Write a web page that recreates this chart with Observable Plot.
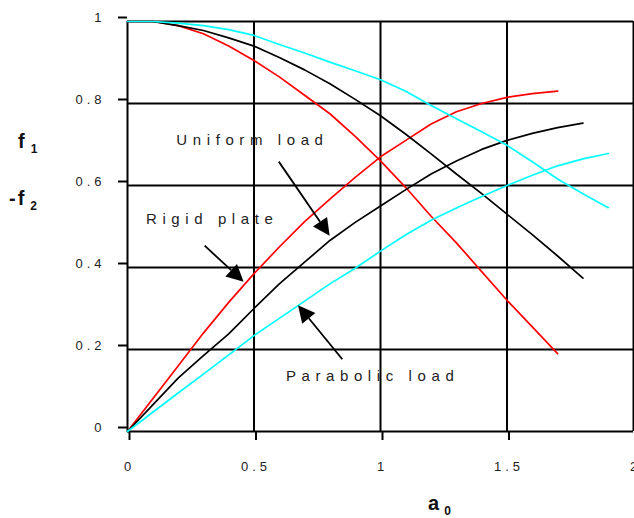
<!DOCTYPE html>
<html>
<head>
<meta charset="utf-8">
<script src="https://cdn.jsdelivr.net/npm/d3@7"></script>
<script src="https://cdn.jsdelivr.net/npm/@observablehq/plot@0.6"></script>
<style>
  body { margin: 0; background: #fff; }
  #chart { width: 634px; height: 518px; overflow: hidden; }
</style>
</head>
<body>
<div id="chart"></div>
<script>
// Axis ticks
const xTicks = [0, 0.5, 1, 1.5, 2];
const yTicks = [0, 0.2, 0.4, 0.6, 0.8, 1];

// Series names
const seriesNames = ["Rigid plate", "Uniform load", "Parabolic load"];

// Rigid plate
const a0Rigid = [0, 0.1, 0.2, 0.3, 0.4, 0.5, 0.6, 0.7, 0.8, 0.9, 1.0, 1.1, 1.2, 1.3, 1.4, 1.5, 1.6, 1.7];
const f1Rigid = [1, 1.0, 0.99, 0.97, 0.94, 0.905, 0.865, 0.82, 0.775, 0.72, 0.66, 0.595, 0.525, 0.46, 0.39, 0.32, 0.255, 0.19];
const negF2Rigid = [0, 0.08, 0.16, 0.24, 0.315, 0.385, 0.45, 0.512, 0.567, 0.62, 0.67, 0.71, 0.75, 0.78, 0.80, 0.815, 0.824, 0.83];

// Uniform load
const a0Uniform = [0, 0.1, 0.2, 0.3, 0.4, 0.5, 0.6, 0.7, 0.8, 0.9, 1.0, 1.1, 1.2, 1.3, 1.4, 1.5, 1.6, 1.7, 1.8];
const f1Uniform = [1, 1.0, 0.99, 0.978, 0.96, 0.94, 0.912, 0.882, 0.848, 0.81, 0.77, 0.725, 0.677, 0.628, 0.58, 0.53, 0.48, 0.428, 0.374];
const negF2Uniform = [0, 0.065, 0.13, 0.185, 0.238, 0.30, 0.36, 0.413, 0.466, 0.51, 0.55, 0.59, 0.628, 0.66, 0.688, 0.71, 0.727, 0.741, 0.752];

// Parabolic load
const a0Parabolic = [0, 0.1, 0.2, 0.3, 0.4, 0.5, 0.6, 0.7, 0.8, 0.9, 1.0, 1.1, 1.2, 1.3, 1.4, 1.5, 1.6, 1.7, 1.8, 1.9];
const f1Parabolic = [1, 1.0, 0.996, 0.99, 0.98, 0.966, 0.944, 0.923, 0.901, 0.88, 0.858, 0.83, 0.795, 0.763, 0.731, 0.698, 0.658, 0.616, 0.58, 0.546];
const negF2Parabolic = [0, 0.047, 0.094, 0.14, 0.187, 0.234, 0.276, 0.318, 0.36, 0.398, 0.44, 0.48, 0.515, 0.545, 0.573, 0.60, 0.625, 0.648, 0.665, 0.678];

// Callout labels (anchored at the start of their baseline, data units)
const calloutText = ["Uniform load", "Rigid plate", "Parabolic load"];
const calloutX = [0.193, 0.073, 0.626];
const calloutY = [0.700, 0.505, 0.124];

// Callout arrows: tail -> tip, data units
const arrowTailX = [0.600, 0.307, 0.851];
const arrowTailY = [0.657, 0.452, 0.175];
const arrowTipX = [0.801, 0.461, 0.676];
const arrowTipY = [0.476, 0.364, 0.307];

// Long-format table: one row per point, one line per (series, component)
function seriesRows(name, a0, f1, negF2) {
  const rows = [];
  a0.forEach((a, i) => rows.push({series: name, part: "f1", a0: a, value: f1[i]}));
  a0.forEach((a, i) => rows.push({series: name, part: "-f2", a0: a, value: negF2[i]}));
  return rows;
}
const curves = [
  ...seriesRows(seriesNames[0], a0Rigid, f1Rigid, negF2Rigid),
  ...seriesRows(seriesNames[1], a0Uniform, f1Uniform, negF2Uniform),
  ...seriesRows(seriesNames[2], a0Parabolic, f1Parabolic, negF2Parabolic)
];
const callouts = calloutText.map((t, i) => ({text: t, x: calloutX[i], y: calloutY[i]}));

// Filled-head arrows drawn through the plot's own x/y scales
function calloutArrows(index, scales) {
  const g = d3.create("svg:g").attr("aria-label", "callout arrows");
  const L = 17, W = 8.5;
  for (let i = 0; i < arrowTipX.length; i++) {
    const x1 = scales.x(arrowTailX[i]), y1 = scales.y(arrowTailY[i]);
    const x2 = scales.x(arrowTipX[i]), y2 = scales.y(arrowTipY[i]);
    const ang = Math.atan2(y2 - y1, x2 - x1);
    const bx = x2 - L * Math.cos(ang), by = y2 - L * Math.sin(ang);
    g.append("line")
      .attr("x1", x1).attr("y1", y1).attr("x2", bx).attr("y2", by)
      .attr("stroke", "black").attr("stroke-width", 1.8);
    g.append("path")
      .attr("d", `M${x2},${y2}L${bx + W * Math.sin(ang)},${by - W * Math.cos(ang)}L${bx - W * Math.sin(ang)},${by + W * Math.cos(ang)}Z`)
      .attr("fill", "black");
  }
  return g.node();
}

const chart = Plot.plot({
  width: 634,
  height: 518,
  marginLeft: 127,
  marginRight: 1,
  marginTop: 21,
  marginBottom: 87,
  x: {domain: [0, 2]},
  y: {domain: [0, 1]},
  color: {domain: seriesNames, range: ["#ff0000", "#000000", "#00ffff"]},
  style: {
    fontFamily: "'Liberation Sans', Arial, sans-serif",
    fontSize: "13px",
    background: "#fff",
    color: "#222",
    overflow: "visible"
  },
  marks: [
    Plot.gridX(xTicks, {stroke: "#000", strokeOpacity: 1, strokeWidth: 2}),
    Plot.gridY(yTicks, {stroke: "#000", strokeOpacity: 1, strokeWidth: 2}),
    Plot.axisX(xTicks, {
      tickSize: 9, tickPadding: 21, strokeWidth: 2, stroke: "#000",
      tickFormat: d => String(d), label: null, dx: 2, fill: "#222"
    }),
    Plot.axisY(yTicks, {
      tickSize: 9, tickPadding: 13, strokeWidth: 2, stroke: "#000",
      tickFormat: d => String(d), label: null, dy: -4, fill: "#222"
    }),
    Plot.line(curves, {
      x: "a0", y: "value", z: d => d.series + d.part,
      stroke: "series", strokeWidth: 1.7, curve: "linear"
    }),
    Plot.text(callouts, {
      x: "x", y: "y", text: "text", textAnchor: "start", lineAnchor: "bottom",
      fontSize: 15, fill: "#222"
    }),
    calloutArrows
  ]
});

const svg = d3.select(chart);
svg.selectAll("text").attr("letter-spacing", "4px");
svg.selectAll('g[aria-label="text"] text').attr("letter-spacing", "5.6px");

// Axis titles with subscripts
function title(x, y, parts) {
  const t = svg.append("text")
    .attr("x", x).attr("y", y)
    .attr("text-anchor", "start")
    .attr("font-family", "'Liberation Sans', Arial, sans-serif")
    .attr("font-weight", "bold")
    .attr("fill", "#111")
    .attr("letter-spacing", 0);
  parts.forEach(p => t.append("tspan")
    .attr("font-size", p.size).attr("dx", p.dx || 0).attr("dy", p.dy || 0).text(p.text));
}
title(18, 148, [{text: "f", size: 20}, {text: "1", size: 12, dx: 6, dy: 5}]);
title(9, 205, [{text: "-", size: 20}, {text: "f", size: 20, dx: 2}, {text: "2", size: 12, dx: 6, dy: 5}]);
title(428, 510, [{text: "a", size: 20}, {text: "0", size: 12, dx: 5, dy: 5}]);

document.getElementById("chart").appendChild(chart);
</script>
</body>
</html>
